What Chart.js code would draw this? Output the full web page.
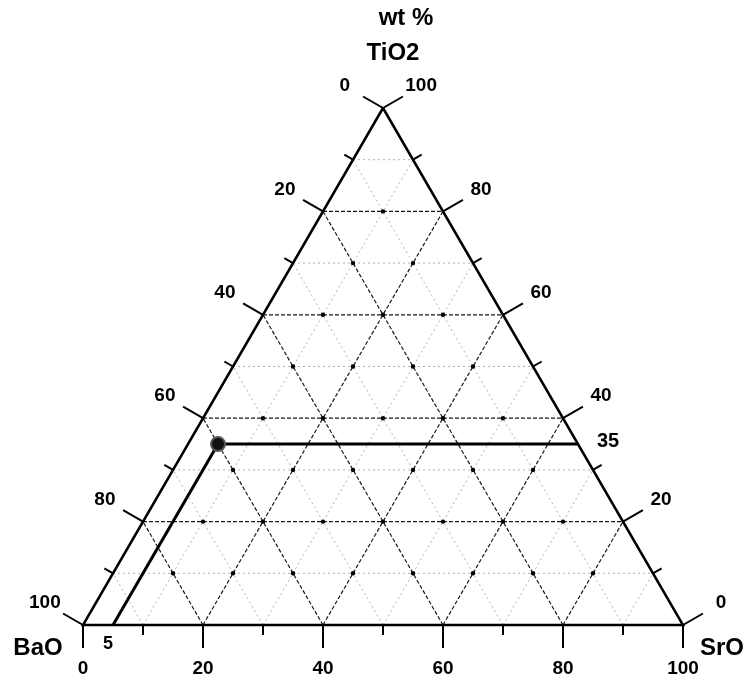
<!DOCTYPE html>
<html><head><meta charset="utf-8">
<script src="https://cdn.jsdelivr.net/npm/chart.js@4/dist/chart.umd.min.js"></script>
<style>html,body{margin:0;padding:0;background:#fff}canvas{display:block}</style>
</head><body>
<canvas id="c" width="751" height="690"></canvas>
<script>
// ---- data ----
const components = ['TiO2', 'BaO', 'SrO'];
const majorTicks = [0, 20, 40, 60, 80, 100];
const minorTicks = [10, 30, 50, 70, 90];
const majorGrid = [20, 40, 60, 80];
const sampleTiO2 = [35];
const sampleSrO = [5];
const sampleBaO = [60];
const titleText = 'wt %';
const calloutLabels = ['35', '5'];

// ---- ternary helpers ----
const SQ = Math.sqrt(3) / 2;
function toXY(tio2, sro) { return { x: sro + tio2 / 2, y: tio2 * SQ }; }

function gridLines(values) {
  const out = [];
  values.forEach(v => {
    out.push([toXY(v, 0), toXY(v, 100 - v)]);           // TiO2 = v
    out.push([toXY(0, v), toXY(100 - v, v)]);           // SrO = v
    out.push([toXY(0, 100 - v), toXY(100 - v, 0)]);     // BaO = v
  });
  return out;
}

const datasets = [];
// sample point
datasets.push({
  data: sampleTiO2.map((t, i) => toXY(t, sampleSrO[i])),
  pointRadius: 7, pointBackgroundColor: '#111', pointBorderColor: '#555', pointBorderWidth: 2,
  showLine: false, order: 0, clip: false
});
// guide lines from sample
sampleTiO2.forEach((t, i) => {
  const s = sampleSrO[i];
  datasets.push({ data: [toXY(t, s), toXY(t, 100 - t)], showLine: true, borderColor: '#000', borderWidth: 3, pointRadius: 0, order: 1, clip: false });
  datasets.push({ data: [toXY(t, s), toXY(0, s)], showLine: true, borderColor: '#000', borderWidth: 3, pointRadius: 0, order: 1, clip: false });
});
// triangle edges
datasets.push({ data: [toXY(100, 0), toXY(0, 0), toXY(0, 100), toXY(100, 0)], showLine: true, borderColor: '#000', borderWidth: 2.5, pointRadius: 0, order: 2, clip: false });
// lattice dots
const dots = [];
for (let t = 10; t < 100; t += 10) for (let s = 10; t + s < 100; s += 10) dots.push(toXY(t, s));
datasets.push({ data: dots, showLine: false, pointRadius: 2.2, pointBackgroundColor: '#000', pointBorderWidth: 0, order: 3 });
// major grid
gridLines(majorGrid).forEach(l => datasets.push({ data: l, showLine: true, borderColor: 'rgba(0,0,0,0.9)', borderWidth: 1.2, borderDash: [4, 2], pointRadius: 0, order: 4 }));
// minor grid
gridLines(minorTicks).forEach(l => datasets.push({ data: l, showLine: true, borderColor: '#b0b0b0', borderWidth: 1, borderDash: [2, 3], pointRadius: 0, order: 5 }));

const ternaryAxes = {
  id: 'ternaryAxes',
  afterDraw(chart) {
    const ctx = chart.ctx, xs = chart.scales.x, ys = chart.scales.y;
    const P = p => ({ x: xs.getPixelForValue(p.x), y: ys.getPixelForValue(p.y) });
    const axes = [
      { pt: v => toXY(100 - v, 0), dir: [-0.866, -0.5] },   // BaO on left edge
      { pt: v => toXY(v, 100 - v), dir: [0.866, -0.5] },    // TiO2 on right edge
      { pt: v => toXY(0, v), dir: [0, 1] }                  // SrO on bottom
    ];
    ctx.save();
    ctx.strokeStyle = '#000'; ctx.lineWidth = 2; ctx.fillStyle = '#000';
    ctx.textAlign = 'center'; ctx.textBaseline = 'middle';
    ctx.font = 'bold 19px "Liberation Sans", Arial, sans-serif';
    axes.forEach(a => {
      majorTicks.forEach(v => {
        const p = P(a.pt(v));
        ctx.beginPath(); ctx.moveTo(p.x, p.y); ctx.lineTo(p.x + a.dir[0] * 23, p.y + a.dir[1] * 23); ctx.stroke();
        ctx.fillText(String(v), p.x + a.dir[0] * 44, p.y + a.dir[1] * 44);
      });
      minorTicks.forEach(v => {
        const p = P(a.pt(v));
        ctx.beginPath(); ctx.moveTo(p.x, p.y); ctx.lineTo(p.x + a.dir[0] * 10, p.y + a.dir[1] * 10); ctx.stroke();
      });
    });
    // callouts
    const r = P(toXY(sampleTiO2[0], 100 - sampleTiO2[0]));
    ctx.font = 'bold 20px "Liberation Sans", Arial, sans-serif';
    ctx.fillText(calloutLabels[0], r.x + 30, r.y - 3);
    const b = P(toXY(0, sampleSrO[0]));
    ctx.font = 'bold 18px "Liberation Sans", Arial, sans-serif';
    ctx.fillText(calloutLabels[1], b.x - 5, b.y + 19);
    // vertex names and title
    ctx.font = 'bold 24px "Liberation Sans", Arial, sans-serif';
    const top = P(toXY(100, 0)), bl = P(toXY(0, 0)), br = P(toXY(0, 100));
    ctx.fillText(components[0], top.x + 10, top.y - 55);
    ctx.fillText(titleText, top.x + 23, top.y - 90);
    ctx.fillText(components[1], bl.x - 45, bl.y + 23);
    ctx.fillText(components[2], br.x + 39, br.y + 23);
    ctx.restore();
  }
};

new Chart(document.getElementById('c'), {
  type: 'scatter',
  data: { datasets },
  options: {
    responsive: false, animation: false,
    layout: { padding: { left: 83, right: 68, top: 108, bottom: 65 } },
    plugins: { legend: { display: false }, tooltip: { enabled: false } },
    scales: {
      x: { type: 'linear', min: 0, max: 100, display: false },
      y: { type: 'linear', min: 0, max: 100 * SQ, display: false }
    }
  },
  plugins: [ternaryAxes]
});
</script>
</body></html>
